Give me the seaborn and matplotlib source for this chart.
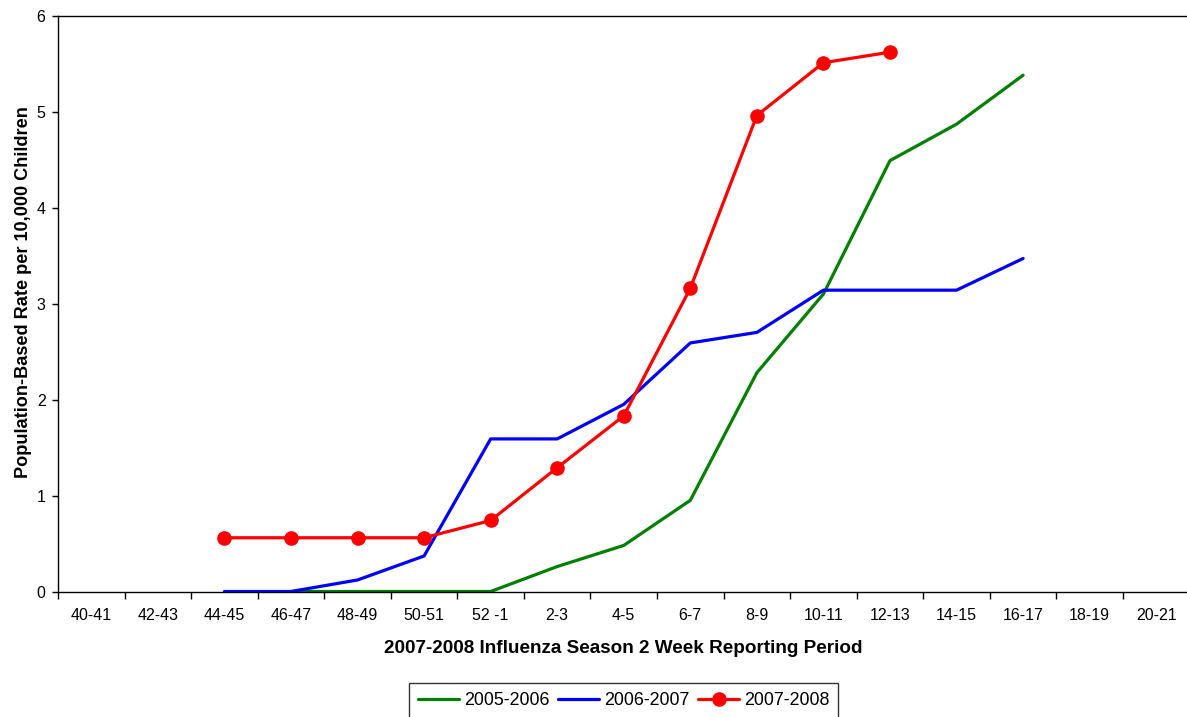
import numpy as np
import pandas as pd
import matplotlib
matplotlib.use("Agg")
import matplotlib.pyplot as plt
import seaborn as sns

# ===== DATA =====
periods = ['40-41', '42-43', '44-45', '46-47', '48-49', '50-51', '52 -1', '2-3',
           '4-5', '6-7', '8-9', '10-11', '12-13', '14-15', '16-17', '18-19', '20-21']

nan = np.nan
s2005 = [nan, nan, nan, 0.0, 0.0, 0.0, 0.0, 0.26, 0.48, 0.95, 2.28, 3.10, 4.49, 4.87, 5.38, nan, nan]
s2006 = [nan, nan, 0.0, 0.0, 0.12, 0.37, 1.59, 1.59, 1.95, 2.59, 2.70, 3.14, 3.14, 3.14, 3.47, nan, nan]
s2007 = [nan, nan, 0.56, 0.56, 0.56, 0.56, 0.74, 1.29, 1.83, 3.16, 4.96, 5.51, 5.62, nan, nan, nan, nan]

seasons = ['2005-2006', '2006-2007', '2007-2008']
colors = {'2005-2006': '#008000', '2006-2007': '#0000ff', '2007-2008': '#ff0000'}
markers = {'2005-2006': None, '2006-2007': None, '2007-2008': 'o'}

# ===== PLOT =====
sns.set_style("ticks")
plt.rcParams['font.family'] = ['Liberation Sans', 'DejaVu Sans']
plt.rcParams['text.color'] = 'black'
plt.rcParams['axes.labelcolor'] = 'black'

fig = plt.figure(figsize=(11.87, 7.17), dpi=100)
ax = fig.add_axes([58 / 1187, 1 - 591.5 / 717, 1131.5 / 1187, 575.8 / 717])

for name, vals in zip(seasons, [s2005, s2006, s2007]):
    d = pd.DataFrame({'pos': np.arange(len(periods)), 'rate': vals}).dropna()
    sns.lineplot(data=d, x='pos', y='rate', color=colors[name], label=name,
                 marker=markers[name], linewidth=2.3, markersize=10.5,
                 markeredgewidth=0, ax=ax)

ax.set_xlim(-0.5, len(periods) - 0.5)
ax.set_ylim(0, 6)
ax.set_yticks(range(0, 7))

ax.set_xticks(range(len(periods)))
ax.set_xticklabels(periods)
ax.set_xticks(np.arange(-0.5, len(periods), 1), minor=True)
ax.tick_params(axis='x', which='major', length=0, pad=12, labelsize=11.5, colors='black')
ax.tick_params(axis='x', which='minor', length=5, width=1, direction='out', color='black')
ax.tick_params(axis='y', length=4, width=1, direction='out', pad=5, labelsize=11.5,
               colors='black')

for side in ['left', 'bottom', 'top']:
    ax.spines[side].set_visible(True)
    ax.spines[side].set_color('black')
    ax.spines[side].set_linewidth(1)
ax.spines['right'].set_visible(False)

ax.set_xlabel('2007-2008 Influenza Season 2 Week Reporting Period',
              fontsize=13.6, fontweight='bold', labelpad=12)
ax.set_ylabel('Population-Based Rate per 10,000 Children',
              fontsize=13.1, fontweight='bold')
ax.yaxis.set_label_coords(-0.023, 0.52)

leg = ax.legend(loc='upper center', bbox_to_anchor=(0.5, -0.159), ncol=3,
                frameon=True, fancybox=False, edgecolor='#333333', framealpha=1,
                fontsize=12.9, handlelength=2.3, handletextpad=0.25,
                columnspacing=0.5, borderpad=0.5, borderaxespad=0)
leg.get_frame().set_linewidth(1)

fig.savefig('out.png', dpi=100)
